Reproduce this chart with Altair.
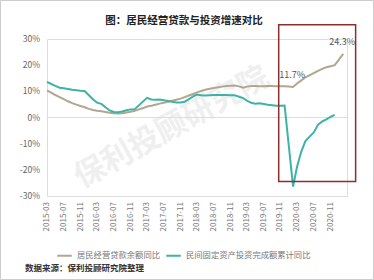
import altair as alt
import pandas as pd

FONT = "Noto Sans CJK SC"

title_text = "图：居民经营贷款与投资增速对比"
source_text = "数据来源：保利投顾研究院整理"
watermark_text = "保利投顾研究院"

gray_name = "居民经营贷款余额同比"
teal_name = "民间固定资产投资完成额累计同比"
gray_color = "#b3a690"
teal_color = "#3db3a5"

# household business loan balance YoY (%), monthly from 2015-03
gray_start = "2015-03"
gray_values = [
    10.4, 9.5, 8.6, 7.8, 7.0, 6.2, 5.5, 4.9, 4.4, 3.9,
    3.3, 2.9, 2.6, 2.4, 2.1, 1.8, 1.6, 1.5, 1.6, 1.9, 2.2, 2.6,
    3.1, 3.6, 4.2, 4.5, 4.9, 5.3, 5.6, 6.0, 6.4, 6.8, 7.2, 7.8,
    8.4, 9.0, 9.6, 10.1, 10.6, 11.0, 11.3, 11.6, 11.8, 12.0, 12.1, 12.2,
    11.9, 11.4, 11.8, 12.0, 12.0, 11.9, 11.9, 12.0, 12.0, 11.9, 11.9, 11.9,
    11.8, 11.7, 13.0, 14.2, 15.3, 16.2, 17.0, 17.8, 18.6, 19.2, 19.6, 20.0,
    22.1, 24.3,
]

# private fixed-asset investment, cumulative YoY (%)
teal_months = [
    "2015-03", "2015-04", "2015-05", "2015-06", "2015-07", "2015-08", "2015-09", "2015-10", "2015-11", "2015-12",
    "2016-02", "2016-03", "2016-04", "2016-05", "2016-06", "2016-07", "2016-08", "2016-09", "2016-10", "2016-11", "2016-12",
    "2017-03", "2017-04", "2017-05", "2017-06", "2017-07", "2017-08", "2017-09", "2017-10", "2017-11", "2017-12",
    "2018-02", "2018-03", "2018-04", "2018-05", "2018-06", "2018-07", "2018-08", "2018-09", "2018-10", "2018-11", "2018-12",
    "2019-02", "2019-03", "2019-04", "2019-05", "2019-06", "2019-07", "2019-08", "2019-09", "2019-10", "2019-11", "2019-12",
    "2020-02", "2020-03", "2020-04", "2020-05", "2020-06", "2020-07", "2020-08", "2020-09", "2020-10", "2020-11", "2020-12",
]
teal_values = [
    13.6, 12.8, 12.1, 11.4, 11.2, 10.9, 10.6, 10.4, 10.2, 10.1,
    6.9, 5.7, 5.2, 3.9, 2.7, 2.1, 2.0, 2.3, 2.8, 3.1, 3.2,
    7.5, 6.9, 6.8, 6.9, 6.6, 6.3, 6.0, 5.7, 5.7, 6.0,
    8.1, 8.8, 8.5, 8.4, 8.5, 8.6, 8.6, 8.6, 8.6, 8.5, 8.5,
    7.4, 6.4, 5.6, 5.3, 5.4, 5.2, 4.9, 4.7, 4.5, 4.5, 4.6,
    -26.4, -18.8, -13.0, -9.0, -7.3, -5.7, -2.8, -1.5, -0.7, 0.2, 1.0,
]

# x-axis tick months (every 4 months)
tick_months = [
    "2015-03", "2015-07", "2015-11", "2016-03", "2016-07", "2016-11",
    "2017-03", "2017-07", "2017-11", "2018-03", "2018-07", "2018-11",
    "2019-03", "2019-07", "2019-11", "2020-03", "2020-07", "2020-11",
]
y_ticks = [-30, -20, -10, 0, 10, 20, 30]

# annotations
ann_months = ["2020-02", "2021-02"]
ann_values = [11.7, 24.3]
ann_labels = ["11.7%", "24.3%"]

# highlight box (dates and value range)
box_start = "2019-10-19"
box_end = "2021-05-03"
box_top = 35.4
box_bottom = -24.5


def ts(m):
    return m + "-01T00:00" if len(m) == 7 else m + "T00:00"


gray_months = [d.strftime("%Y-%m") for d in pd.date_range(gray_start + "-01", periods=len(gray_values), freq="MS")]

df = pd.concat([
    pd.DataFrame({"date": [ts(m) for m in gray_months], "value": gray_values, "series": gray_name}),
    pd.DataFrame({"date": [ts(m) for m in teal_months], "value": teal_values, "series": teal_name}),
])
ann_df = pd.DataFrame({"date": [ts(m) for m in ann_months], "value": ann_values, "label": ann_labels})
box_df = pd.DataFrame({"x1": [ts(box_start)], "x2": [ts(box_end)], "y1": [box_top], "y2": [box_bottom]})
xtick_df = pd.DataFrame({"date": [ts(m) for m in tick_months], "label": tick_months})
ytick_df = pd.DataFrame({"value": y_ticks, "label": [f"{v}%" for v in y_ticks]})
one = pd.DataFrame({"a": [0]})


def dt(m):
    y, mo = m.split("-")
    return alt.DateTime(year=int(y), month=int(mo), date=1)


x_scale = alt.Scale(domain=[dt("2015-03"), dt("2021-03")])
y_scale = alt.Scale(domain=[-30, 30], nice=False, zero=False)

X = lambda f: alt.X(f, scale=x_scale, axis=None)
Y = lambda f: alt.Y(f, scale=y_scale, axis=None)

border = alt.Chart(one).mark_rect(fill=None, stroke="#cccccc", strokeWidth=1, clip=False).encode(
    x=alt.value(-46.5), x2=alt.value(326.5), y=alt.value(-38.5), y2=alt.value(240.5)
)

watermark = alt.Chart(one).mark_text(
    text=watermark_text, fontSize=31, font=FONT, fontWeight="bold", color="#efefef",
    angle=331, align="center", baseline="middle", clip=False,
).encode(x=alt.value(125), y=alt.value(89))

zero = alt.Chart(one).mark_rule(color="#dddddd", strokeWidth=1).encode(
    y=alt.datum(0, scale=y_scale, axis=None)
)

lines = alt.Chart(df).mark_line(strokeWidth=2, clip=False).encode(
    x=X("date:T"),
    y=Y("value:Q"),
    color=alt.Color(
        "series:N",
        scale=alt.Scale(domain=[gray_name, teal_name], range=[gray_color, teal_color]),
        legend=alt.Legend(
            title=None, orient="none", direction="horizontal", legendX=9, legendY=208,
            symbolType="stroke", symbolSize=210, symbolStrokeWidth=2, labelFontSize=8.3,
            labelColor="#777777", labelFont=FONT, labelOffset=4, columnPadding=2,
            labelLimit=300, padding=0,
        ),
    ),
    detail="series:N",
)

box = alt.Chart(box_df).mark_rect(fill=None, stroke="#8f2d2d", strokeWidth=1.5, clip=False).encode(
    x=X("x1:T"), x2="x2:T", y=Y("y1:Q"), y2="y2:Q",
)

ann = alt.Chart(ann_df).mark_text(
    fontSize=9, font=FONT, color="#555555", dy=-12, dx=-1, align="center", clip=False
).encode(x=X("date:T"), y=Y("value:Q"), text="label:N")

xlabels = alt.Chart(xtick_df).mark_text(
    fontSize=8, font=FONT, color="#777777", angle=270, align="right", baseline="middle", clip=False,
).encode(x=X("date:T"), y=alt.value(163), text="label:N")

ylabels = alt.Chart(ytick_df).mark_text(
    fontSize=8.5, font=FONT, color="#666666", align="right", baseline="middle", clip=False,
).encode(x=alt.value(-7), y=Y("value:Q"), text="label:N")

title = alt.Chart(one).mark_text(
    text=title_text, fontSize=10.5, font=FONT, fontWeight="bold", color="#222222",
    align="center", baseline="middle", clip=False,
).encode(x=alt.value(137), y=alt.value(-18))

source = alt.Chart(one).mark_text(
    text=source_text, fontSize=8.5, font=FONT, fontWeight="bold", color="#333333",
    align="left", baseline="middle", clip=False,
).encode(x=alt.value(-22), y=alt.value(229))

chart = alt.layer(border, watermark, zero, lines, box, ann, xlabels, ylabels, title, source).properties(
    width=300, height=157,
    padding={"left": 47, "top": 39, "right": 27, "bottom": 84},
    autosize=alt.AutoSizeParams(type="none"),
).configure_view(stroke=None).configure(font=FONT)

chart.save("out.html", embed_options={"renderer": "svg", "actions": False})
